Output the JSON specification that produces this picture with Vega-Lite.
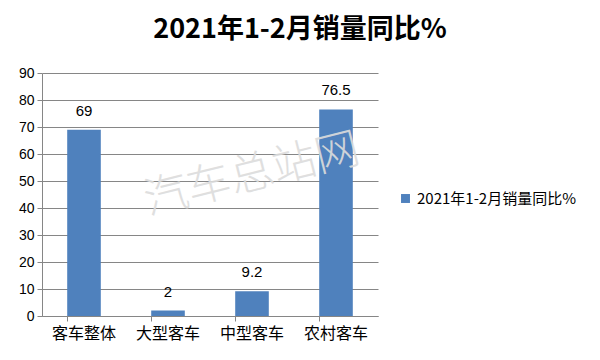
{
  "$schema": "https://vega.github.io/schema/vega-lite/v6.json",
  "width": 336,
  "height": 243,
  "autosize": {"type": "none"},
  "padding": {"left": 42, "top": 73, "right": 222, "bottom": 44},
  "background": "white",
  "title": {
    "text": "2021年1-2月销量同比%",
    "fontSize": 27,
    "fontWeight": "bold",
    "font": "Noto Sans CJK SC",
    "color": "#000000",
    "anchor": "middle",
    "dx": 90,
    "offset": 22
  },
  "data": {
    "values": [
      {"cat": "客车整体", "val": 69, "series": "2021年1-2月销量同比%"},
      {"cat": "大型客车", "val": 2, "series": "2021年1-2月销量同比%"},
      {"cat": "中型客车", "val": 9.2, "series": "2021年1-2月销量同比%"},
      {"cat": "农村客车", "val": 76.5, "series": "2021年1-2月销量同比%"}
    ]
  },
  "encoding": {
    "x": {
      "field": "cat", "type": "nominal",
      "scale": {"domain": ["客车整体", "大型客车", "中型客车", "农村客车"], "paddingInner": 0.6, "paddingOuter": 0.3},
      "axis": {
        "title": null, "labelAngle": 0, "bandPosition": 0, "grid": false,
        "labelFont": "Noto Sans CJK SC", "labelFontSize": 16, "labelColor": "#000",
        "domainColor": "#868686", "tickColor": "#868686", "tickSize": 5, "ticks": true,
        "labelPadding": 4
      }
    },
    "y": {
      "field": "val", "type": "quantitative", "stack": null,
      "scale": {"domain": [0, 90], "nice": false},
      "axis": {
        "title": null, "values": [0, 10, 20, 30, 40, 50, 60, 70, 80, 90], "grid": true,
        "labelFont": "Liberation Sans", "labelFontSize": 14, "labelColor": "#000",
        "domainColor": "#868686", "tickColor": "#868686", "tickSize": 5, "ticks": true,
        "gridColor": "#868686", "gridWidth": 1, "labelPadding": 3, "labelOverlap": false
      }
    }
  },
  "layer": [
    {
      "mark": {"type": "bar", "color": "#4F81BD"},
      "encoding": {
        "color": {
          "field": "series", "type": "nominal",
          "scale": {"range": ["#4F81BD"]},
          "legend": {
            "title": null, "orient": "none", "legendX": 356, "legendY": 118,
            "symbolType": "square", "symbolSize": 80, "labelLimit": 300,
            "labelFont": "Noto Sans CJK SC", "labelFontSize": 15, "labelColor": "#000"
          }
        }
      }
    },
    {
      "mark": {"type": "text", "dy": -11, "baseline": "bottom", "font": "Liberation Sans", "fontSize": 15, "color": "#000"},
      "encoding": {
        "text": {"field": "val", "type": "quantitative"}
      }
    },
    {
      "data": {"values": [{"cat": "中型客车", "val": 52, "wm": "汽车总站网"}]},
      "mark": {"type": "text", "font": "Noto Sans CJK SC", "fontSize": 44, "fontWeight": 300, "color": "#dcdcdc", "angle": 346, "opacity": 0.9},
      "encoding": {
        "text": {"field": "wm"}
      }
    }
  ],
  "config": {"view": {"stroke": null}}
}
